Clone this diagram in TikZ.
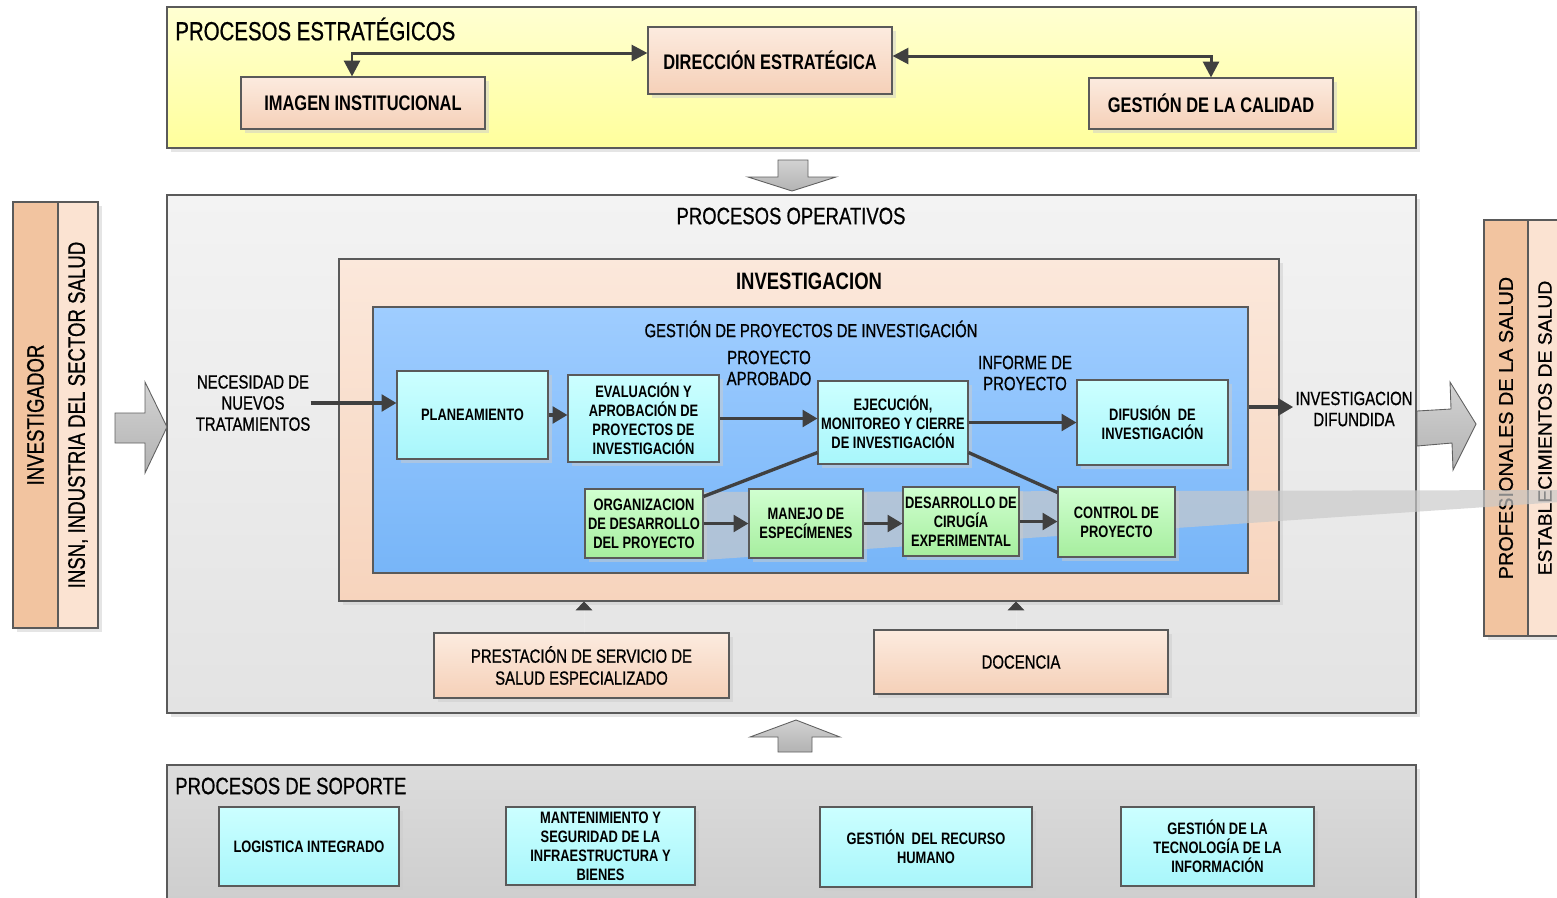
\documentclass[tikz,border=0pt]{standalone}
\usepackage{fontspec}
\setmainfont{Liberation Sans}
\newfontfamily\nf[FakeStretch=0.78]{Liberation Sans}
\newfontfamily\nfr[FakeStretch=0.78,FakeBold=0.7]{Liberation Sans}
\newfontfamily\rr[FakeBold=0.5]{Liberation Sans}
\usetikzlibrary{arrows.meta,shadows,calc}

\definecolor{edge}{HTML}{5A5A5A}
\definecolor{arrowc}{HTML}{404040}
\definecolor{yelT}{HTML}{FFFFD2}\definecolor{yelB}{HTML}{FFFF9C}
\definecolor{peachT}{HTML}{FCEBDF}\definecolor{peachB}{HTML}{F5D0B8}
\definecolor{opT}{HTML}{F3F3F3}\definecolor{opB}{HTML}{E3E3E3}
\definecolor{invT}{HTML}{FBE8DB}\definecolor{invB}{HTML}{F7D4BD}
\definecolor{bluT}{HTML}{9FCDFF}\definecolor{bluB}{HTML}{77B5F8}
\definecolor{cyT}{HTML}{CCFFFF}\definecolor{cyB}{HTML}{A8F6FB}
\definecolor{grT}{HTML}{D0FFD0}\definecolor{grB}{HTML}{A6EE9E}
\definecolor{soT}{HTML}{DCDCDC}\definecolor{soB}{HTML}{CDCDCD}
\definecolor{barA}{HTML}{F2C4A0}\definecolor{barB}{HTML}{FBE3D2}
\definecolor{bandc}{HTML}{C9C9C9}
\definecolor{tickc}{HTML}{E9E9E9}

\newcommand\mkbox[7]{\node[#6, minimum width={(#4-#2)*0.02cm}, minimum height={(#5-#3)*0.02cm}] (#1) at ({(#2+#4)/2},{(#3+#5)/2}) {#7};}

\tikzset{
  bxframe/.style={draw=edge, line width=0.6pt, inner sep=0pt, align=center},
  shad/.style={drop shadow={shadow xshift=2.5pt, shadow yshift=-2.5pt, fill=black!20, opacity=0.5}},
  stratbox/.style={bxframe, shad, top color=yelT, bottom color=yelB},
  opbox/.style={bxframe, shad, top color=opT, bottom color=opB},
  sopbox/.style={bxframe, shad, top color=soT, bottom color=soB},
  invbox/.style={bxframe, shad, top color=invT, bottom color=invB},
  bluebox/.style={bxframe, top color=bluT, bottom color=bluB},
  peachbox/.style={bxframe, shad, top color=peachT, bottom color=peachB, font=\nf\bfseries\fontsize{12}{14}\selectfont},
  lowpeach/.style={bxframe, shad, top color=peachT, bottom color=peachB, font=\nfr\fontsize{10.9}{12.5}\selectfont},
  cybox/.style={bxframe, shad, top color=cyT, bottom color=cyB, font=\nf\bfseries\fontsize{9.4}{10.8}\selectfont},
  grbox/.style={bxframe, shad, top color=grT, bottom color=grB, font=\nf\bfseries\fontsize{9.4}{10.8}\selectfont},
  bigttl/.style={inner sep=0pt, font=\nfr\fontsize{14.9}{17}\selectfont},
  midttl/.style={inner sep=0pt, font=\nfr\fontsize{13.5}{16}\selectfont},
  lbl/.style={inner sep=0pt, align=center, font=\nfr\fontsize{10.9}{12}\selectfont},
  barone/.style={draw=edge, line width=0.6pt, shad, fill=barA, inner sep=0pt, rotate=90},
  bartwo/.style={draw=edge, line width=0.6pt, shad, fill=barB, inner sep=0pt, rotate=90},
  arr/.style={draw=arrowc, line width=1.9pt, -{Triangle[length=8.5pt,width=9.5pt]}},
  biarr/.style={draw=arrowc, line width=1.7pt, {Triangle[length=9pt,width=9pt]}-{Triangle[length=9pt,width=9pt]}},
  plain/.style={draw=arrowc, line width=1.9pt},
  tickarr/.style={draw=tickc, line width=0.4pt, -{Triangle[length=5pt,width=9.5pt,color=arrowc]}},
  blockarr/.style={draw=gray!75!black, line width=0.5pt, top color=gray!35, bottom color=gray!60}
}

\begin{document}
\begin{tikzpicture}[x=0.02cm,y=-0.02cm]
\useasboundingbox (0,0) rectangle (1557,897);
\fill[white] (0,0) rectangle (1557,897);

% ---------- strategic processes
\mkbox{strat}{167}{7}{1416}{148}{stratbox}{}
\node[bigttl, anchor=west] (strattl) at (175,29) {PROCESOS ESTRATÉGICOS};
\mkbox{dir}{648}{27}{892}{94}{peachbox}{DIRECCIÓN ESTRATÉGICA}
\mkbox{img}{241}{77}{485}{129}{peachbox}{IMAGEN INSTITUCIONAL}
\mkbox{cal}{1089}{78}{1333}{129}{peachbox}{GESTIÓN DE LA CALIDAD}
\draw[biarr] ($(img.north)+(-11,0)$) |- ($(dir.west)+(0,-7.5)$);
\draw[biarr] ($(dir.east)+(0,-4.5)$) -| (cal.north);

% block arrow down
\draw[blockarr] (778,160) -- (808,160) -- (808,177) -- (836,177) -- (792,191) -- (748,177) -- (778,177) -- cycle;

% ---------- operative processes
\mkbox{oper}{167}{195}{1416}{713}{opbox}{}
\node[midttl] (opttl) at (791,216) {PROCESOS OPERATIVOS};
\mkbox{inv}{339}{259}{1279}{601}{invbox}{}
\node[midttl, font=\nf\bfseries\fontsize{13.5}{16}\selectfont] (invttl) at (809,281) {INVESTIGACION};
\mkbox{blue}{373}{307}{1248}{573}{bluebox}{}
\node[inner sep=0pt, font=\nfr\fontsize{10.8}{12}\selectfont] (bluettl) at (811,329) {GESTIÓN DE PROYECTOS DE INVESTIGACIÓN};

\mkbox{plan}{397}{371}{548}{459}{cybox}{PLANEAMIENTO}
\mkbox{eval}{568}{375}{719}{462}{cybox}{EVALUACIÓN Y\\APROBACIÓN DE\\PROYECTOS DE\\INVESTIGACIÓN}
\mkbox{ejec}{818}{381}{968}{464}{cybox}{EJECUCIÓN,\\MONITOREO Y CIERRE\\DE INVESTIGACIÓN}
\mkbox{dif}{1077}{380}{1228}{465}{cybox}{DIFUSIÓN\ \ DE\\INVESTIGACIÓN}

\node[lbl] (nec) at (253,403) {NECESIDAD DE\\NUEVOS\\TRATAMIENTOS};
\node[lbl] (aprob) at (769,368) {PROYECTO\\APROBADO};
\node[lbl] (inform) at (1025,373) {INFORME DE\\PROYECTO};
\node[lbl] (difund) at (1354,409) {INVESTIGACION\\DIFUNDIDA};

\mkbox{prest}{434}{633}{729}{698}{lowpeach}{PRESTACIÓN DE SERVICIO DE\\SALUD ESPECIALIZADO}
\mkbox{doc}{874}{630}{1168}{694}{lowpeach}{DOCENCIA}
\draw[tickarr] ($(prest.north)+(2.5,0)$) -- ($(prest.north |- inv.south)+(2.5,0)$);
\draw[tickarr] ($(doc.north)+(-5,0)$) -- ($(doc.north |- inv.south)+(-5,0)$);

% block arrow up
\draw[blockarr] (778,752) -- (812,752) -- (812,737) -- (840,737) -- (796,720) -- (750,737) -- (778,737) -- cycle;

% ---------- support processes
\mkbox{sop}{167}{765}{1416}{910}{sopbox}{}
\node[midttl, anchor=west] (sopttl) at (175,786) {PROCESOS DE SOPORTE};
\mkbox{log}{219}{807}{399}{886}{cybox}{LOGISTICA INTEGRADO}
\mkbox{mant}{506}{807}{695}{885}{cybox}{MANTENIMIENTO Y\\SEGURIDAD DE LA\\INFRAESTRUCTURA Y\\BIENES}
\mkbox{rrhh}{820}{807}{1032}{887}{cybox}{GESTIÓN\ \ DEL RECURSO\\HUMANO}
\mkbox{tic}{1121}{807}{1314}{886}{cybox}{GESTIÓN DE LA\\TECNOLOGÍA DE LA\\INFORMACIÓN}

% ---------- side bars
\node[barone, minimum width=426*0.02cm, minimum height=45*0.02cm, font=\nfr\fontsize{13.6}{15}\selectfont] (lb1) at (35.5,415) {INVESTIGADOR};
\node[bartwo, minimum width=426*0.02cm, minimum height=40*0.02cm, font=\nfr\fontsize{13.6}{15}\selectfont] (lb2) at (78,415) {INSN, INDUSTRIA DEL SECTOR SALUD};
\node[barone, minimum width=416*0.02cm, minimum height=44*0.02cm, font=\rr\fontsize{11.3}{13}\selectfont] (rb1) at (1506,428) {PROFESIONALES DE LA SALUD};
\node[bartwo, minimum width=416*0.02cm, minimum height=34*0.02cm, font=\rr\fontsize{11}{13}\selectfont] (rb2) at (1545,428) {ESTABLECIMIENTOS DE SALUD};

% side block arrows
\draw[blockarr] (115,413) -- (145,413) -- (145,382) -- (167,427) -- (145,473) -- (145,443) -- (115,443) -- cycle;
\draw[blockarr] (1417,411) -- (1451,409) -- (1450,382) -- (1476,424) -- (1453,470) -- (1452,443) -- (1417,446) -- cycle;

% translucent band
\fill[bandc, opacity=0.68] (703,492) -- (1560,490) -- (1560,502) -- (703,560) -- cycle;

% green boxes
\mkbox{org}{585}{489}{703}{558}{grbox}{ORGANIZACION\\DE DESARROLLO\\DEL PROYECTO}
\mkbox{man}{749}{489}{863}{558}{grbox}{MANEJO DE\\ESPECÍMENES}
\mkbox{desa}{903}{487}{1019}{556}{grbox}{DESARROLLO DE\\CIRUGÍA\\EXPERIMENTAL}
\mkbox{ctrl}{1058}{487}{1175}{557}{grbox}{CONTROL DE\\PROYECTO}

% connectors
\draw[arr] (nec.east) -- (nec.east -| plan.west);
\draw[arr] (plan.east) -- (plan.east -| eval.west);
\draw[arr] (eval.east) -- (eval.east -| ejec.west);
\draw[arr] (ejec.east) -- (ejec.east -| dif.west);
\draw[arr] ($(difund.west -| blue.east)+(0,-2)$) -- ($(difund.west)+(-2,-2)$);
\draw[plain] ($(ejec.south west)+(0,-12)$) -- ($(org.north east)+(0,8)$);
\draw[plain] ($(ejec.south east)+(0,-12)$) -- ($(ctrl.north west)+(0,6)$);
\draw[arr] (org.east) -- (org.east -| man.west);
\draw[arr] (man.east) -- (man.east -| desa.west);
\draw[arr] (desa.east) -- (desa.east -| ctrl.west);
\end{tikzpicture}
\end{document}
